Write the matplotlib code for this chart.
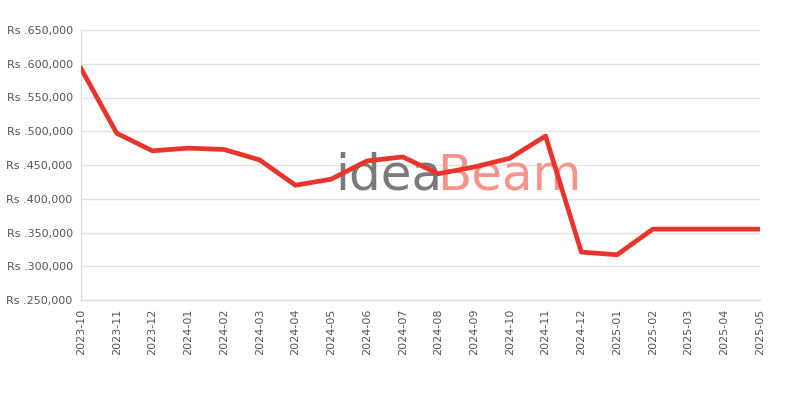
import matplotlib.pyplot as plt
from matplotlib.ticker import FuncFormatter

# monthly prices
months = ['2023-10', '2023-11', '2023-12', '2024-01', '2024-02', '2024-03',
          '2024-04', '2024-05', '2024-06', '2024-07', '2024-08', '2024-09',
          '2024-10', '2024-11', '2024-12', '2025-01', '2025-02', '2025-03',
          '2025-04', '2025-05']
prices = [593000, 497000, 471000, 475000, 473000, 457500,
          420000, 429000, 456000, 462000, 437000, 447000,
          460000, 493000, 321000, 317000, 355000, 355000,
          355000, 355000]
y_ticks = [250000, 300000, 350000, 400000, 450000, 500000, 550000, 600000, 650000]

fig = plt.figure(figsize=(8, 4), dpi=100)
ax = fig.add_axes([0.10125, 0.25, 0.84875, 0.675])

# watermark, behind the line
ax.text(0.419, 0.525, 'idea', color='#7a7a7a', fontsize=36,
        ha='left', va='baseline', transform=fig.transFigure, zorder=1)
ax.text(0.547, 0.525, 'Beam', color='#f4948a', fontsize=36,
        ha='left', va='baseline', transform=fig.transFigure, zorder=1)

x = list(range(len(months)))
ax.plot(x, prices, color='#e8342a', linewidth=3.4, zorder=3)

ax.set_xlim(0, len(months) - 1)
ax.set_ylim(250000, 650000)
ax.set_yticks(y_ticks)
ax.yaxis.set_major_formatter(FuncFormatter(lambda v, p: 'Rs .{:,.0f}'.format(v)))
ax.set_xticks(x)
ax.set_xticklabels(months, rotation=90)

ax.grid(axis='y', color='#e3e3e3', linewidth=1)
ax.set_axisbelow(True)
for s in ['top', 'right']:
    ax.spines[s].set_visible(False)
for s in ['left', 'bottom']:
    ax.spines[s].set_color('#d9d9d9')
ax.tick_params(axis='both', length=0, labelsize=8, colors='#555555', pad=6)

plt.savefig('out.png')
